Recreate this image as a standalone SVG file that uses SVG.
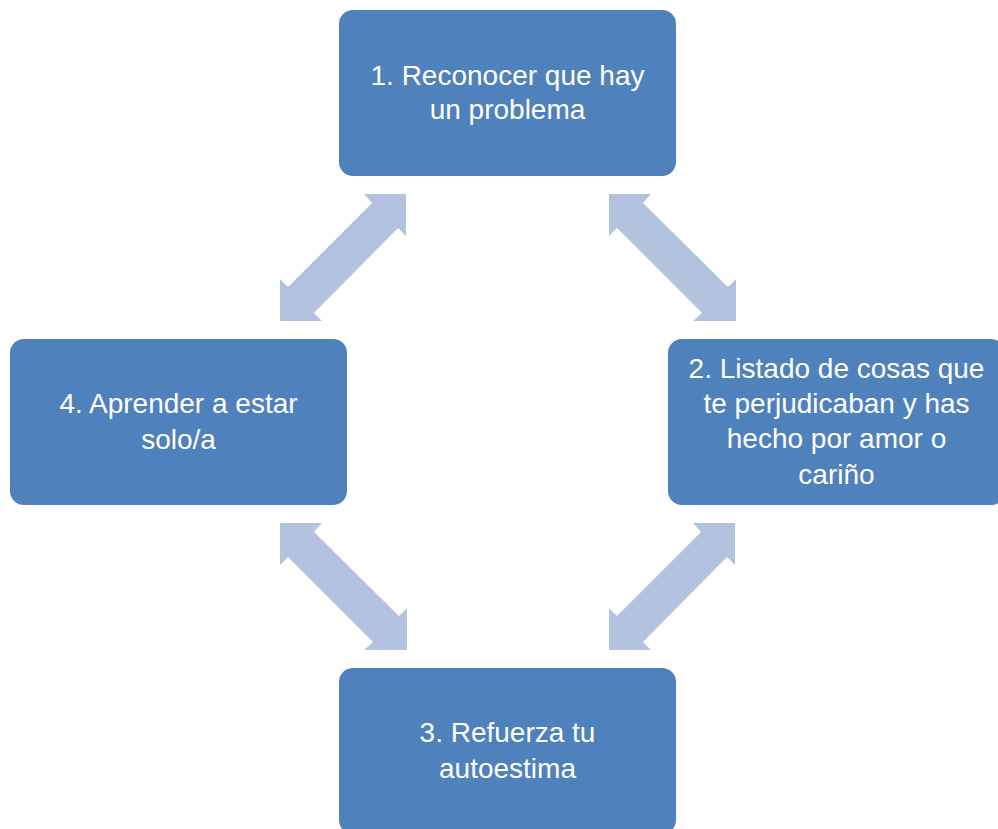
<svg xmlns="http://www.w3.org/2000/svg" width="998" height="829" viewBox="0 0 998 829">
<style>
.box{fill:#4F81BD;}
.lbl{fill:#FFFFFF;font-family:"Liberation Sans",Arial,sans-serif;font-size:28px;text-anchor:middle;}
.arr{fill:#B3C3DF;}
</style>
<rect width="998" height="829" fill="#FFFFFF"/>
<g id="connectors">
<polygon class="arr" points="406,194 406,236 398,228 314,313 322,321 280,321 280,279 288,287 372,203 364,194"/>
<polygon class="arr" points="609,194 651,194 643,203 728,287 736,279 736,321 693,321 702,313 617,228 609,236"/>
<polygon class="arr" points="280,523 322,523 314,532 399,616 407,608 407,650 364,650 373,642 288,557 280,565"/>
<polygon class="arr" points="735,523 735,565 727,557 643,642 651,650 609,650 609,608 617,616 701,532 693,523"/>
</g>
<g id="node1">
<rect class="box" x="339" y="10" width="337" height="166" rx="14"/>
<text class="lbl" x="507.5" y="85">1. Reconocer que hay</text>
<text class="lbl" x="507.5" y="119">un problema</text>
</g>
<g id="node2">
<rect class="box" x="668" y="339" width="337" height="166" rx="14"/>
<text class="lbl" x="836.5" y="378">2. Listado de cosas que</text>
<text class="lbl" x="836.5" y="413">te perjudicaban y has</text>
<text class="lbl" x="836.5" y="448">hecho por amor o</text>
<text class="lbl" x="836.5" y="484">cariño</text>
</g>
<g id="node3">
<rect class="box" x="339" y="668" width="337" height="166" rx="14"/>
<text class="lbl" x="507.5" y="742">3. Refuerza tu</text>
<text class="lbl" x="507.5" y="778">autoestima</text>
</g>
<g id="node4">
<rect class="box" x="10" y="339" width="337" height="166" rx="14"/>
<text class="lbl" x="178.5" y="413">4. Aprender a estar</text>
<text class="lbl" x="178.5" y="449">solo/a</text>
</g>
</svg>
